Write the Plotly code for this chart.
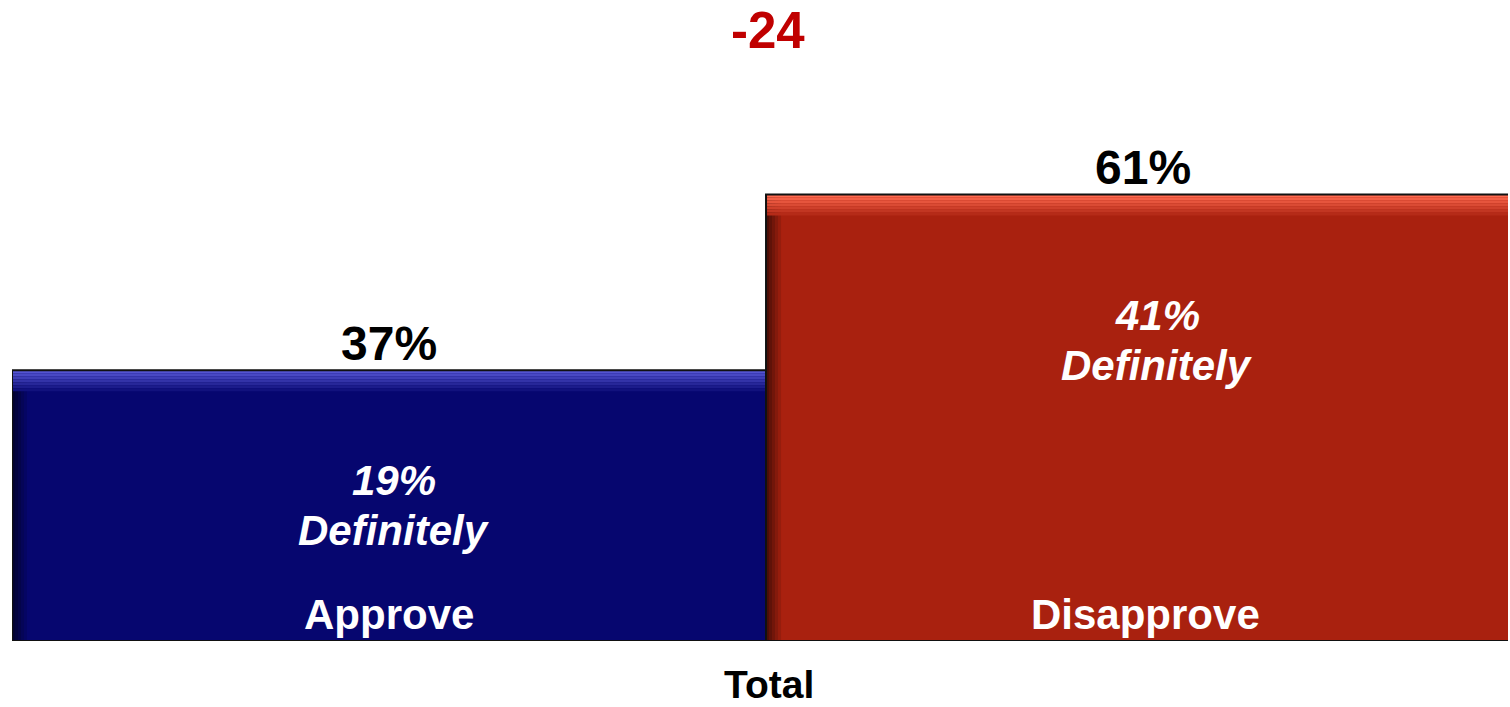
import plotly.graph_objects as go

categories = ["Approve", "Disapprove"]
totals = [37, 61]
definitely = [19, 41]
bar_colors = ["#06066F", "#A9210F"]
highlight_colors = ["#5454D2", "#FF6A50"]
group_label = "Total"

net = totals[0] - totals[1]
xs = list(range(len(categories)))


def mix(c1, c2, f):
    a = [int(c1[k:k + 2], 16) for k in (1, 3, 5)]
    b = [int(c2[k:k + 2], 16) for k in (1, 3, 5)]
    return "#" + "".join(f"{round(a[j] + (b[j] - a[j]) * f):02x}" for j in range(3))


fig = go.Figure()
fig.add_trace(go.Bar(
    x=xs, y=totals, width=1,
    marker=dict(color=bar_colors, line=dict(width=0)),
    hoverinfo="skip",
))

shapes = []
n_top = 7
n_left = 5
for i, t in enumerate(totals):
    # left dark bevel
    for k in range(n_left):
        shapes.append(dict(type="rect", xref="x", yref="y", layer="above",
                           xsizemode="pixel", xanchor=xs[i] - 0.5, x0=3 * k, x1=3 * (k + 1),
                           y0=0, y1=t,
                           fillcolor=mix("#000000", bar_colors[i], 0.45 + 0.55 * k / n_left),
                           line=dict(width=0)))
    # top highlight bevel (gradient strips)
    for k in range(n_top):
        shapes.append(dict(type="rect", xref="x", yref="y", layer="above",
                           x0=xs[i] - 0.5, x1=xs[i] + 0.5,
                           ysizemode="pixel", yanchor=t, y0=-3 * k, y1=-3 * (k + 1),
                           fillcolor=mix(highlight_colors[i], bar_colors[i], k / n_top),
                           line=dict(width=0)))
    # outline
    shapes.append(dict(type="rect", xref="x", yref="y", layer="above",
                       x0=xs[i] - 0.5, x1=xs[i] + 0.5, y0=0, y1=t,
                       line=dict(color="#111111", width=2)))

ann = []
arial = "Liberation Sans, Arial, sans-serif"
inner_xshift = [5, 14]
inner_yshift = [-110, -121]
for i, (c, t, d) in enumerate(zip(categories, totals, definitely)):
    ann.append(dict(x=xs[i], y=t, text=f"<b>{t}%</b>", showarrow=False,
                    yanchor="middle", yshift=27,
                    font=dict(family=arial, size=48, color="black")))
    ann.append(dict(x=xs[i], y=t, text=f"<b><i>{d}%</i></b>", showarrow=False,
                    yanchor="middle", yshift=inner_yshift[i], xshift=inner_xshift[i],
                    font=dict(family=arial, size=42, color="white")))
    ann.append(dict(x=xs[i], y=t, text="<b><i>Definitely</i></b>", showarrow=False,
                    yanchor="middle", yshift=inner_yshift[i] - 50, xshift=inner_xshift[i],
                    font=dict(family=arial, size=42, color="white")))
    ann.append(dict(x=xs[i], y=0, text=f"<b>{c}</b>", showarrow=False,
                    yanchor="middle", yshift=27, xshift=2 * i,
                    font=dict(family=arial, size=42, color="white")))

ann.append(dict(x=0.5 + 0.003, y=1, yref="paper", text=f"<b>{net}</b>", showarrow=False,
                yanchor="middle", yshift=-30,
                font=dict(family=arial, size=51, color="#C00000")))
ann.append(dict(x=0.5 + 0.004, y=0, yref="paper", text=f"<b>{group_label}</b>", showarrow=False,
                yanchor="middle", yshift=-43, borderpad=0,
                font=dict(family=arial, size=39, color="black")))

fig.update_layout(
    width=1510, height=707,
    margin=dict(l=12, r=2, t=0, b=66),
    paper_bgcolor="white", plot_bgcolor="white",
    showlegend=False,
    bargap=0,
    shapes=shapes,
    annotations=ann,
    xaxis=dict(range=[-0.5, 1.484], showticklabels=False, showgrid=False,
               zeroline=False, showline=False, ticks=""),
    yaxis=dict(range=[0, 87.57], showticklabels=False, showgrid=False,
               zeroline=False, showline=False, ticks=""),
)

fig.write_html("out.html", config={"displayModeBar": False},
               post_script="document.body.style.margin='0';document.body.style.overflow='hidden';")
